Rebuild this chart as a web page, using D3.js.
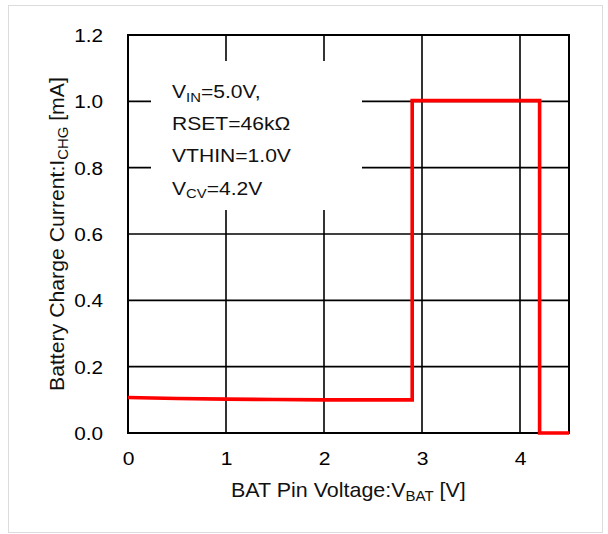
<!DOCTYPE html>
<html><head><meta charset="utf-8">
<script src="https://cdn.jsdelivr.net/npm/d3@7"></script>
<style>
body{margin:0;background:#fff;}
svg{display:block;font-family:"Liberation Sans",Arial,sans-serif;}
</style>
</head><body>
<svg id="c" width="608" height="534"></svg>
<script>
// ---- data ----
const vbat = [0, 0.5, 1.0, 1.5, 2.0, 2.5, 2.9, 2.9, 3.5, 4.2, 4.2, 4.5];
const ichg = [0.107, 0.104, 0.102, 0.101, 0.100, 0.100, 0.100, 1.002, 1.002, 1.002, 0, 0];
const xTicks = [0, 1, 2, 3, 4];
const xTickLabels = ["0", "1", "2", "3", "4"];
const yTicks = [0, 0.2, 0.4, 0.6, 0.8, 1.0, 1.2];
const yTickLabels = ["0.0", "0.2", "0.4", "0.6", "0.8", "1.0", "1.2"];
const noteMain = ["V", "RSET=46kΩ", "VTHIN=1.0V", "V"];
const noteSub = ["IN", "", "", "CV"];
const noteRest = ["=5.0V,", "", "", "=4.2V"];
const xTitle = ["BAT Pin Voltage:V", "BAT", " [V]"];
const yTitle = ["Battery Charge Current:I", "CHG", " [mA]"];

// ---- layout ----
const svg = d3.select("#c");
const L = 128, R = 569, T = 35, B = 433;
const x = d3.scaleLinear().domain([0, 4.5]).range([L, R]);
const y = d3.scaleLinear().domain([0, 1.2]).range([B, T]);

svg.append("rect").attr("x", 0).attr("y", 0).attr("width", 608).attr("height", 534).attr("fill", "#fff");
svg.append("rect").attr("x", 8.5).attr("y", 5.5).attr("width", 594).attr("height", 527)
  .attr("fill", "none").attr("stroke", "#dcdcdc").attr("stroke-width", 1);

// grid
const grid = svg.append("g").attr("stroke", "#000").attr("stroke-width", 1.6);
grid.selectAll("line.v").data(xTicks.filter(d => d > 0)).enter().append("line")
  .attr("x1", d => x(d)).attr("x2", d => x(d)).attr("y1", y(1.2)).attr("y2", y(0));
grid.selectAll("line.h").data(yTicks.filter(d => d > 0 && d < 1.2)).enter().append("line")
  .attr("x1", x(0)).attr("x2", x(4.5)).attr("y1", d => y(d)).attr("y2", d => y(d));

// white annotation box
svg.append("rect").attr("x", 151).attr("y", 61).attr("width", 211).attr("height", 149).attr("fill", "#fff");

// frame
svg.append("rect").attr("x", x(0)).attr("y", y(1.2)).attr("width", x(4.5) - x(0)).attr("height", y(0) - y(1.2))
  .attr("fill", "none").attr("stroke", "#000").attr("stroke-width", 2);

// axes via d3
const yAxis = svg.append("g").attr("transform", `translate(${L},0)`)
  .call(d3.axisLeft(y).tickValues(yTicks).tickSize(0).tickFormat((d, i) => yTickLabels[i]));
yAxis.select(".domain").remove();
yAxis.selectAll("text").attr("x", 0).attr("dy", null).attr("y", 0)
  .attr("font-size", 18.5).attr("font-family", "Liberation Sans, Arial, sans-serif").attr("fill", "#000")
  .attr("text-anchor", "end").attr("transform", "translate(-25,6.6) scale(1.12,1)");

const xAxis = svg.append("g").attr("transform", `translate(0,${B})`)
  .call(d3.axisBottom(x).tickValues(xTicks).tickSize(0).tickFormat((d, i) => xTickLabels[i]));
xAxis.select(".domain").remove();
xAxis.selectAll("text").attr("y", 0).attr("dy", null)
  .attr("font-size", 18.5).attr("font-family", "Liberation Sans, Arial, sans-serif").attr("fill", "#000")
  .attr("text-anchor", "middle").attr("transform", "translate(0,32) scale(1.14,1)");

// annotation
const noteBase = [98.3, 130, 161.7, 194.5];
noteMain.forEach((m, i) => {
  const t = svg.append("text").attr("font-size", 18.5).attr("fill", "#111")
    .attr("transform", `translate(172,${noteBase[i]}) scale(1.14,1)`);
  t.append("tspan").text(m);
  if (noteSub[i]) {
    t.append("tspan").attr("font-size", 13).attr("dy", 3.5).text(noteSub[i]);
    t.append("tspan").attr("dy", -3.5).text(noteRest[i]);
  }
});

// line
const pts = vbat.map((v, i) => [v, ichg[i]]);
svg.append("path").datum(pts)
  .attr("d", d3.line().x(d => x(d[0])).y(d => y(d[1])))
  .attr("fill", "none").attr("stroke", "#ff0000").attr("stroke-width", 3.6).attr("stroke-linejoin", "miter");

// titles
function title(parts, fs, sub, shift) {
  const t = svg.append("text").attr("font-size", fs).attr("fill", "#111").attr("text-anchor", "start");
  t.append("tspan").text(parts[0]);
  t.append("tspan").attr("font-size", sub).attr("dy", shift).text(parts[1]);
  t.append("tspan").attr("dy", -shift).text(parts[2]);
  return t;
}
const xt = title(xTitle, 20, 14, 4);
const xw = xt.node().getComputedTextLength();
const xs = 235 / xw;
xt.attr("transform", `translate(${348.5 - 235 / 2},497) scale(${xs},1)`);

const yt = title(yTitle, 20, 14, 4);
const yw = yt.node().getComputedTextLength();
const ys = 314 / yw;
yt.attr("transform", `translate(64,${234 + 314 / 2}) rotate(-90) scale(${ys},1.05)`);
</script>
</body></html>
